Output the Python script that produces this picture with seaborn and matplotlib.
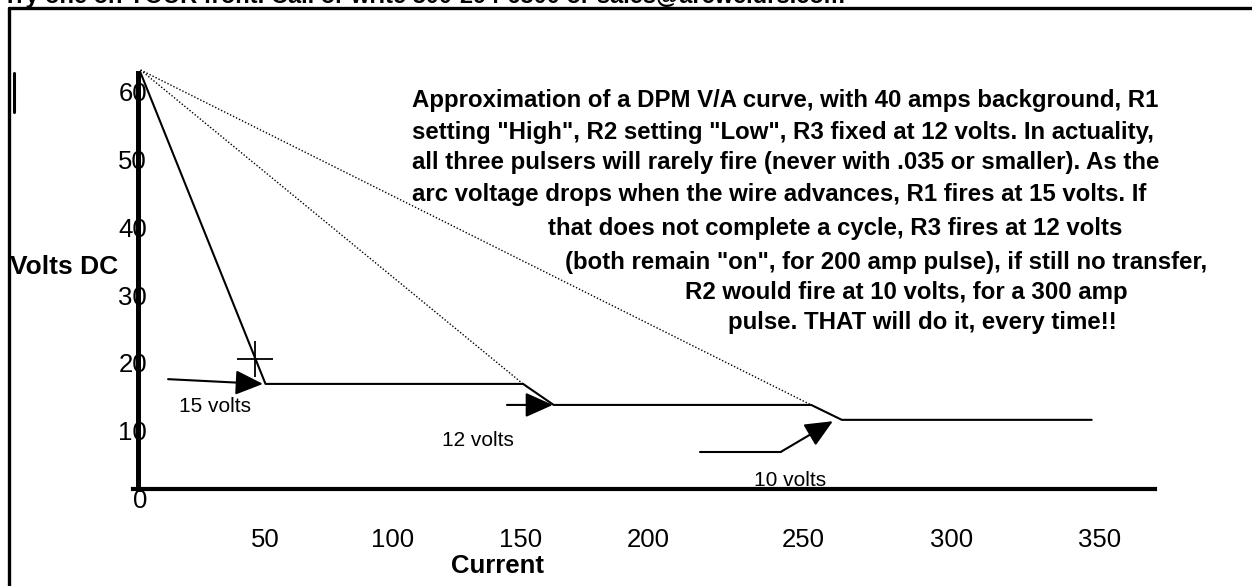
import numpy as np
import pandas as pd
import seaborn as sns
import matplotlib.pyplot as plt
from matplotlib.lines import Line2D

# V/A curve (amps, volts DC)
curve_amps = [1, 50, 151, 163, 264, 276, 374]
curve_volts = [61.4, 15.5, 15.5, 12.4, 12.4, 10.2, 10.2]

# dotted lines from the open circuit point to each pulse step
load_amps = [[1, 151], [1, 264]]
load_volts = [[61.8, 15.5], [61.8, 12.4]]

# the little cross on the first slope
cross_amps = [45.9]
cross_volts = [19.2]

# pulser arrows and their labels
pulse_labels = ["15 volts", "12 volts", "10 volts"]
label_amps = [30.2, 133.3, 255.7]
label_volts = [12.2, 7.2, 1.3]
arrow_from = [(11.8, 16.2), (144.7, 12.4), (252.2, 5.5)]
arrow_to = [(49.0, 15.5), (162.7, 12.4), (272.5, 10.0)]
tail_amps = [220.4, 252.2]
tail_volts = [5.5, 5.5]

# tick labels sit where the original drawing put them
xtick_values = [50, 100, 150, 200, 261, 319, 377]
xtick_labels = ["50", "100", "150", "200", "250", "300", "350"]
ytick_values = [0, 10, 20, 30, 40, 50, 60]

note_lines = [
    "Approximation of a DPM V/A curve, with 40 amps background, R1",
    'setting "High", R2 setting "Low", R3 fixed at 12 volts. In actuality,',
    "all three pulsers will rarely fire (never with .035 or smaller). As the",
    "arc voltage drops when the wire advances, R1 fires at 15 volts. If",
    "that does not complete a cycle, R3 fires at 12 volts",
    '(both remain "on", for 200 amp pulse), if still no transfer,',
    "R2 would fire at 10 volts, for a 300 amp",
    "pulse. THAT will do it, every time!!",
]
note_left = [412, 412, 412, 412, 548, 565, 685, 728]
note_y = [101, 132, 163, 195, 229, 262, 292, 323]

sns.set_theme(style="white")
plt.rcParams["font.family"] = ["Liberation Sans", "DejaVu Sans"]
plt.rcParams["text.color"] = "black"

W, H = 1252, 586
fig = plt.figure(figsize=(W / 100, H / 100), dpi=100)
ax = fig.add_axes([0, 0, 1, 1])
ax.set_facecolor("none")

# pixel layout of the original: 2.55 px per amp, 6.78 px per volt
ax.set_xlim(-138 / 2.55, (W - 138) / 2.55)
ax.set_ylim(-(H - 489) / 6.78, 489 / 6.78)

curve = pd.DataFrame({"amps": curve_amps, "volts": curve_volts})
sns.lineplot(data=curve, x="amps", y="volts", color="black", linewidth=1.5,
             sort=False, ax=ax)
for xs, ys in zip(load_amps, load_volts):
    sns.lineplot(x=xs, y=ys, color="black", linewidth=1.0, sort=False,
                 linestyle=(0, (1, 1.4)), ax=ax)
sns.lineplot(x=tail_amps, y=tail_volts, color="black", linewidth=1.5,
             sort=False, ax=ax)
sns.scatterplot(x=cross_amps, y=cross_volts, marker="+", s=650,
                color="black", linewidth=1.3, ax=ax)

for start, end in zip(arrow_from, arrow_to):
    ax.annotate("", xy=end, xytext=start,
                arrowprops=dict(arrowstyle="-|>,head_length=0.85,head_width=0.38",
                                color="black", lw=1.5, mutation_scale=20,
                                shrinkA=0, shrinkB=0))
for text, xa, yv in zip(pulse_labels, label_amps, label_volts):
    ax.text(xa, yv, text, fontsize=15, ha="center", va="center", color="black")

# axes drawn as in the original sketch
ax.spines["top"].set_visible(False)
ax.spines["right"].set_visible(False)
ax.spines["left"].set_position(("data", 0))
ax.spines["left"].set_bounds(0, 61.4)
ax.spines["left"].set_linewidth(3.6)
ax.spines["bottom"].set_position(("data", 0))
ax.spines["bottom"].set_bounds(-2, 399)
ax.spines["bottom"].set_linewidth(3.0)
for s in ["left", "bottom"]:
    ax.spines[s].set_color("black")

ax.set_xticks(xtick_values, xtick_labels)
ax.set_yticks(ytick_values, [str(v) for v in ytick_values])
ax.tick_params(axis="both", length=0, labelsize=18.5, colors="black",
               labelcolor="black")
ax.tick_params(axis="x", pad=28)
ax.tick_params(axis="y", pad=-6.5)
plt.setp(ax.get_yticklabels(), va="top")
ax.set_xlabel("")
ax.set_ylabel("")

fig.text(10 / W, 1 - 267 / H, "Volts DC", fontsize=19, fontweight="bold",
         ha="left", va="center", color="black")
fig.text(497 / W, 1 - 566 / H, "Current", fontsize=18.5, fontweight="bold",
         ha="center", va="center", color="black")
for line, xl, yl in zip(note_lines, note_left, note_y):
    fig.text(xl / W, 1 - yl / H, line, fontsize=17.3, fontweight="bold",
             ha="left", va="center", color="black")

# clipped header line and page frame
fig.text(3 / W, 1 - 3 / H, "Try one on YOUR front. Call or write 800-294-6300 or sales@arcweldrs.com",
         fontsize=17, fontweight="bold", ha="left", va="baseline", color="black")
fig.add_artist(Line2D([9 / W, 1], [1 - 8 / H, 1 - 8 / H], color="black", lw=2.4,
                      transform=fig.transFigure))
fig.add_artist(Line2D([9 / W, 9 / W], [0, 1 - 8 / H], color="black", lw=2.4,
                      transform=fig.transFigure))
fig.add_artist(Line2D([13.5 / W, 13.5 / W], [1 - 73 / H, 1 - 112 / H], color="black",
                      lw=2.2, transform=fig.transFigure))

fig.savefig("out.png", dpi=100)
